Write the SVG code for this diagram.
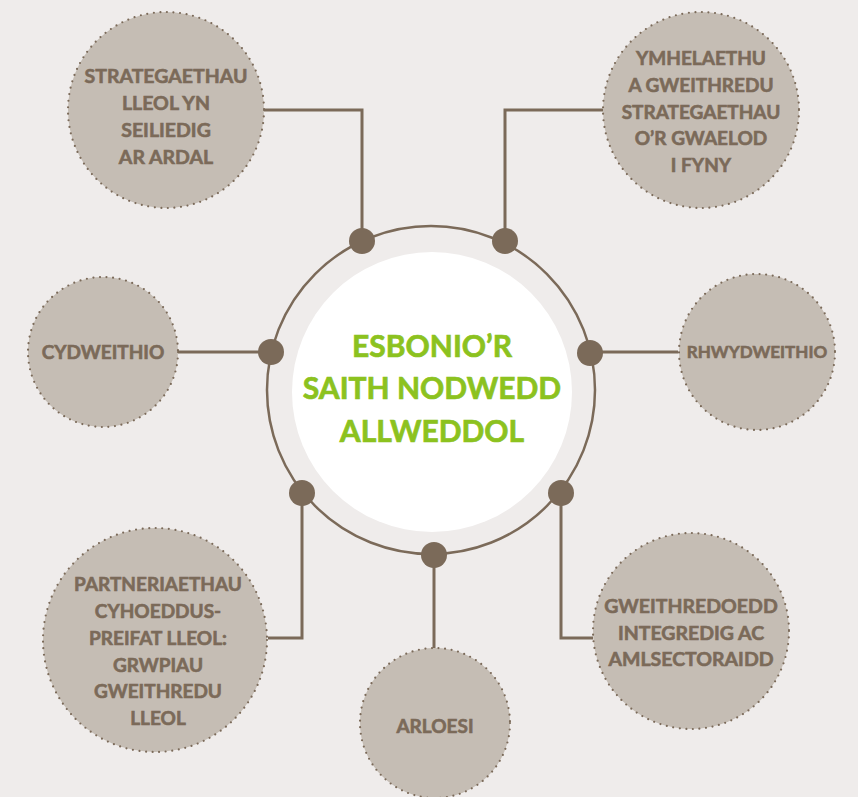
<svg xmlns="http://www.w3.org/2000/svg" width="858" height="797" viewBox="0 0 858 797">
<style>
.bg{fill:#efeceb}
.node{fill:#c5bdb4;stroke:#7b6a59;stroke-width:2.2;stroke-dasharray:0 6.6;stroke-linecap:round}
.lbl{font-family:Lato,"Open Sans","Noto Sans",sans-serif;font-weight:700;fill:#7b6a59;stroke:#7b6a59;stroke-width:0.6;text-anchor:middle}
.conn{fill:none;stroke:#7b6a59;stroke-width:3}
.dot{fill:#7b6a59}
.title{font-family:Lato,"Open Sans","Noto Sans",sans-serif;font-weight:700;fill:#8cc21f;stroke:#8cc21f;stroke-width:0.7;text-anchor:middle;font-size:30px}
</style>
<rect class="bg" x="0" y="0" width="858" height="797"/>
<g id="connectors">
<polyline class="conn" points="264,110 362,110 362,241"/>
<polyline class="conn" points="603,110 505,110 505,241"/>
<polyline class="conn" points="178,352 271,352"/>
<polyline class="conn" points="590,352 678,352"/>
<polyline class="conn" points="302,493 302,638 268,638"/>
<polyline class="conn" points="561,493 561,638 593,638"/>
<polyline class="conn" points="434,555 434,648"/>
</g>
<g id="center">
<circle cx="431" cy="390" r="164" fill="none" stroke="#7b6a59" stroke-width="2.5"/>
<circle cx="432" cy="392" r="140" fill="#ffffff"/>
<text class="title" x="432" y="357">ESBONIO’R</text>
<text class="title" x="432" y="399">SAITH NODWEDD</text>
<text class="title" x="432" y="442">ALLWEDDOL</text>
<circle class="dot" cx="362" cy="241" r="13"/>
<circle class="dot" cx="505" cy="241" r="13"/>
<circle class="dot" cx="271" cy="352" r="13"/>
<circle class="dot" cx="590" cy="353" r="13"/>
<circle class="dot" cx="302" cy="493" r="13"/>
<circle class="dot" cx="561" cy="493" r="13"/>
<circle class="dot" cx="434" cy="555" r="13"/>
</g>
<g id="node-strategaethau">
<circle class="node" cx="166" cy="110" r="98"/>
<text class="lbl" font-size="19.5"><tspan x="166" y="83">STRATEGAETHAU</tspan><tspan x="166" y="110">LLEOL YN</tspan><tspan x="166" y="137">SEILIEDIG</tspan><tspan x="166" y="164">AR ARDAL</tspan></text>
</g>
<g id="node-ymhelaethu">
<circle class="node" cx="701" cy="110" r="98"/>
<text class="lbl" font-size="19"><tspan x="701" y="65">YMHELAETHU</tspan><tspan x="701" y="92">A GWEITHREDU</tspan><tspan x="701" y="119">STRATEGAETHAU</tspan><tspan x="701" y="145">O’R GWAELOD</tspan><tspan x="701" y="172">I FYNY</tspan></text>
</g>
<g id="node-cydweithio">
<circle class="node" cx="103" cy="352" r="75"/>
<text class="lbl" font-size="19" x="103" y="359">CYDWEITHIO</text>
</g>
<g id="node-rhwydweithio">
<circle class="node" cx="757" cy="352" r="78"/>
<text class="lbl" font-size="17" x="757" y="358">RHWYDWEITHIO</text>
</g>
<g id="node-partneriaethau">
<circle class="node" cx="155" cy="640" r="112"/>
<text class="lbl" font-size="19"><tspan x="158" y="591">PARTNERIAETHAU</tspan><tspan x="158" y="618">CYHOEDDUS-</tspan><tspan x="158" y="645">PREIFAT LLEOL:</tspan><tspan x="158" y="672">GRWPIAU</tspan><tspan x="158" y="698">GWEITHREDU</tspan><tspan x="158" y="725">LLEOL</tspan></text>
</g>
<g id="node-gweithredoedd">
<circle class="node" cx="691" cy="631" r="98"/>
<text class="lbl" font-size="19.5"><tspan x="691" y="613">GWEITHREDOEDD</tspan><tspan x="691" y="640">INTEGREDIG AC</tspan><tspan x="691" y="666">AMLSECTORAIDD</tspan></text>
</g>
<g id="node-arloesi">
<circle class="node" cx="435" cy="723" r="75"/>
<text class="lbl" font-size="19" x="435" y="733">ARLOESI</text>
</g>
</svg>
